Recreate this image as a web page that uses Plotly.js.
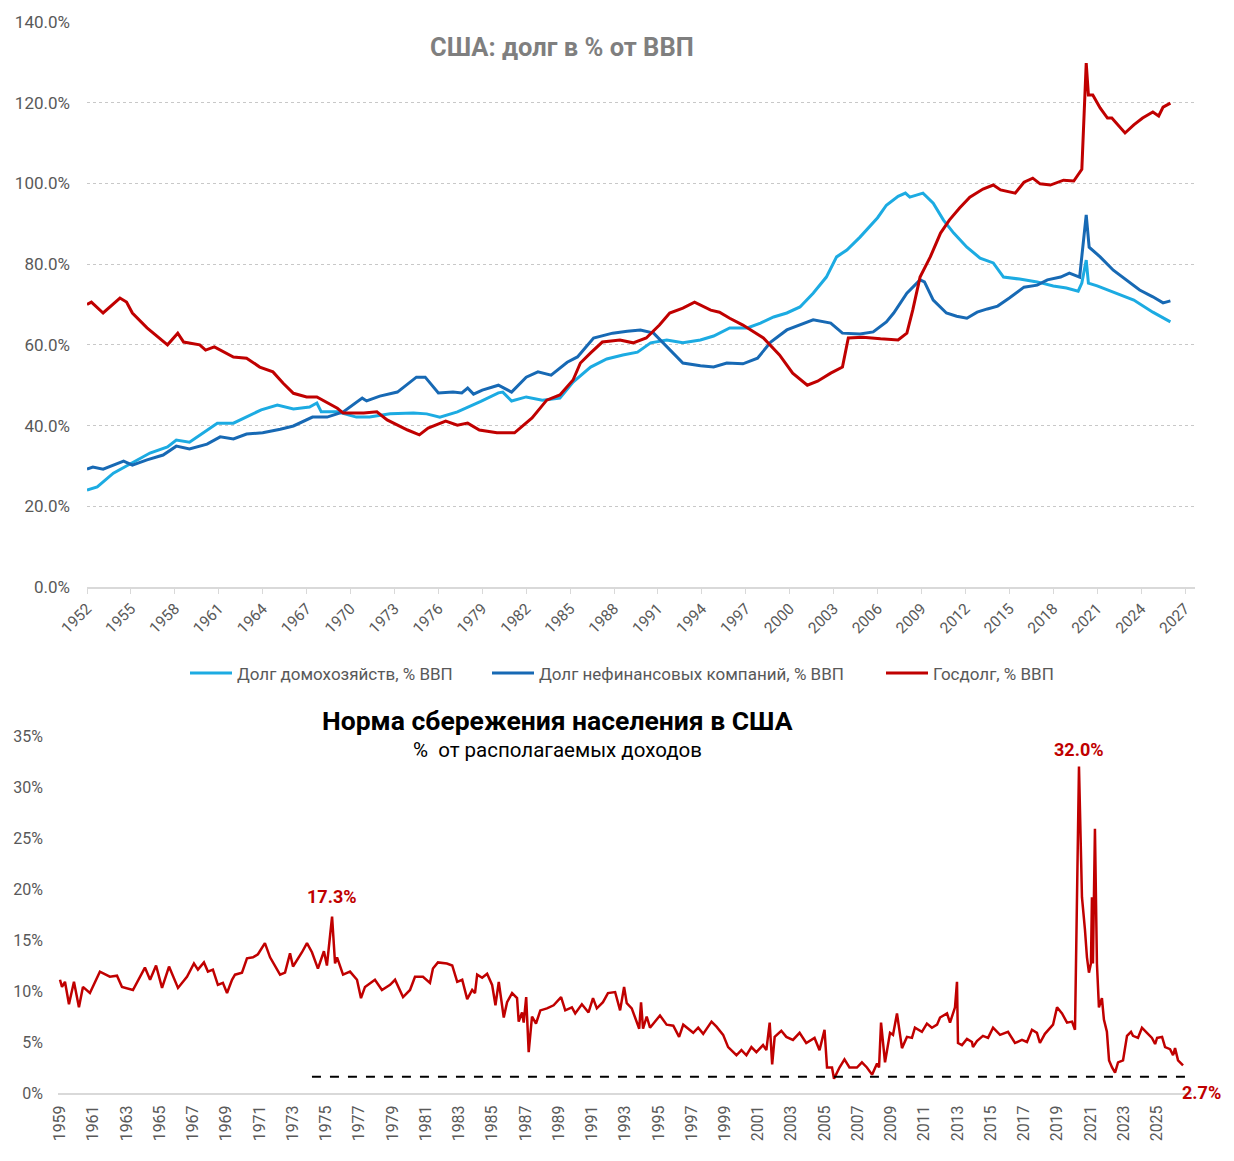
<!DOCTYPE html>
<html>
<head>
<meta charset="utf-8">
<script src="https://cdn.plot.ly/plotly-3.0.1.min.js"></script>
<style>
  html, body { margin: 0; padding: 0; background: #fff; }
  #chart { width: 1234px; height: 1161px; }
</style>
</head>
<body>
<div id="chart"></div>
<script>
// debt, % of GDP
var govYears = [1952.0, 1952.3, 1953.1, 1954.25, 1954.7, 1955.1, 1956.1, 1957.5, 1958.2, 1958.6, 1959.7, 1960.1, 1960.7, 1962.0, 1962.9, 1963.8, 1964.7, 1965.4, 1966.1, 1967.0, 1967.7, 1968.4, 1969.1, 1969.5, 1970.9, 1971.8, 1972.5, 1973.9, 1974.7, 1975.3, 1976.5, 1977.3, 1978.0, 1978.8, 1980.0, 1981.2, 1982.4, 1983.4, 1984.3, 1985.2, 1985.7, 1986.4, 1987.2, 1988.4, 1989.3, 1990.2, 1991.1, 1991.8, 1992.7, 1993.5, 1994.6, 1995.2, 1995.9, 1996.8, 1998.2, 1999.3, 2000.2, 2001.2, 2001.9, 2002.8, 2003.6, 2004.0, 2005.0, 2006.2, 2007.4, 2008.0, 2008.4, 2008.9, 2009.6, 2010.3, 2010.9, 2011.6, 2012.3, 2013.2, 2013.9, 2014.4, 2015.4, 2016.0, 2016.6, 2017.1, 2017.8, 2018.7, 2019.4, 2019.95, 2020.25, 2020.4, 2020.7, 2021.2, 2021.7, 2022.0, 2022.4, 2022.9, 2023.5, 2024.1, 2024.8, 2025.2, 2025.5, 2026.0];
var govDebt = [70.0, 70.6, 67.9, 71.6, 70.6, 67.9, 64.2, 60.0, 62.9, 60.7, 60.0, 58.7, 59.5, 57.0, 56.7, 54.5, 53.3, 50.5, 48.0, 47.1, 47.1, 45.6, 44.3, 43.1, 43.1, 43.4, 41.4, 38.9, 37.7, 39.4, 41.1, 40.1, 40.6, 38.9, 38.2, 38.2, 41.9, 46.3, 47.6, 51.3, 55.5, 58.0, 60.7, 61.2, 60.5, 61.7, 64.9, 67.9, 69.1, 70.6, 68.6, 68.1, 66.6, 64.9, 61.7, 57.5, 53.0, 50.0, 51.0, 53.0, 54.5, 61.7, 61.9, 61.5, 61.2, 62.9, 68.6, 76.8, 81.8, 87.7, 90.9, 93.9, 96.6, 98.6, 99.6, 98.4, 97.6, 100.3, 101.3, 99.9, 99.6, 100.8, 100.6, 103.5, 129.8, 121.9, 121.9, 118.7, 116.2, 116.2, 114.5, 112.5, 114.5, 116.2, 117.7, 116.7, 118.9, 119.9];

var hhYears = [1952.0, 1952.7, 1953.8, 1955.1, 1956.3, 1957.5, 1958.1, 1959.0, 1959.9, 1960.9, 1962.0, 1962.9, 1963.9, 1965.0, 1966.1, 1967.2, 1967.7, 1968.0, 1969.1, 1970.4, 1971.3, 1972.7, 1974.3, 1975.2, 1976.1, 1977.3, 1978.2, 1978.9, 1980.1, 1980.4, 1981.0, 1982.0, 1983.1, 1984.3, 1985.2, 1986.4, 1987.5, 1988.6, 1989.6, 1990.5, 1991.6, 1992.7, 1993.9, 1994.8, 1995.9, 1997.1, 1998.0, 1998.9, 1999.8, 2000.7, 2001.6, 2002.5, 2003.2, 2003.9, 2004.8, 2006.0, 2006.6, 2007.4, 2007.9, 2008.2, 2009.1, 2009.8, 2010.5, 2011.2, 2012.1, 2013.0, 2013.9, 2014.6, 2015.7, 2016.9, 2018.0, 2018.9, 2019.7, 2019.95, 2020.25, 2020.4, 2021.0, 2022.1, 2023.5, 2024.8, 2026.0];
var hhDebt = [24.0, 24.8, 28.2, 30.7, 33.2, 34.7, 36.4, 35.9, 38.2, 40.6, 40.6, 42.1, 43.9, 45.1, 44.1, 44.6, 45.6, 43.4, 43.4, 42.1, 42.1, 42.9, 43.1, 42.9, 42.1, 43.4, 44.8, 46.0, 48.1, 48.3, 46.1, 47.1, 46.3, 46.8, 50.8, 54.5, 56.5, 57.5, 58.2, 60.5, 61.2, 60.5, 61.2, 62.2, 64.2, 64.2, 65.4, 66.9, 67.9, 69.4, 72.8, 76.8, 81.8, 83.5, 86.7, 91.5, 94.6, 96.8, 97.6, 96.6, 97.6, 95.1, 90.9, 87.7, 84.2, 81.5, 80.3, 76.8, 76.3, 75.6, 74.6, 74.1, 73.3, 75.3, 81.0, 75.3, 74.6, 73.1, 71.1, 68.1, 65.7];

var corpYears = [1952.0, 1952.4, 1953.1, 1954.5, 1955.1, 1956.1, 1957.2, 1958.1, 1959.0, 1960.2, 1961.1, 1962.0, 1962.9, 1964.0, 1965.2, 1966.1, 1967.4, 1968.4, 1969.5, 1970.8, 1971.1, 1972.0, 1973.2, 1973.7, 1974.5, 1975.1, 1976.0, 1977.0, 1977.6, 1978.0, 1978.4, 1979.0, 1980.1, 1981.0, 1982.0, 1982.8, 1983.7, 1984.8, 1985.5, 1986.6, 1987.9, 1988.9, 1989.8, 1990.7, 1991.6, 1992.7, 1993.9, 1994.8, 1995.7, 1996.8, 1997.8, 1998.7, 1999.8, 2000.7, 2001.6, 2002.8, 2003.6, 2004.8, 2005.7, 2006.6, 2007.1, 2008.0, 2008.9, 2009.2, 2009.8, 2010.7, 2011.4, 2012.1, 2012.8, 2013.5, 2014.2, 2015.0, 2016.0, 2016.9, 2017.6, 2018.5, 2019.1, 2019.8, 2020.25, 2020.45, 2021.2, 2022.1, 2023.0, 2023.9, 2024.8, 2025.5, 2026.0];
var corpDebt = [29.2, 29.7, 29.2, 31.2, 30.2, 31.5, 32.7, 34.9, 34.2, 35.4, 37.2, 36.7, 37.9, 38.2, 39.1, 39.9, 42.1, 42.1, 43.4, 46.8, 46.1, 47.3, 48.3, 49.8, 52.0, 52.0, 48.1, 48.3, 48.1, 49.3, 47.8, 48.8, 50.0, 48.3, 52.0, 53.3, 52.5, 55.7, 57.0, 61.7, 62.9, 63.4, 63.7, 62.9, 59.5, 55.5, 54.8, 54.5, 55.5, 55.3, 56.7, 60.7, 63.7, 64.9, 66.2, 65.4, 62.9, 62.7, 63.2, 65.7, 67.9, 72.8, 76.1, 75.6, 71.1, 67.9, 67.1, 66.6, 68.1, 68.9, 69.6, 71.6, 74.3, 74.8, 76.1, 76.8, 77.8, 76.8, 92.2, 84.2, 81.8, 78.5, 76.1, 73.6, 71.9, 70.4, 70.9];

// personal saving rate, % of disposable income
var saveYears = [1959.0, 1959.12, 1959.3, 1959.54, 1959.84, 1960.14, 1960.38, 1960.8, 1961.4, 1962.0, 1962.43, 1962.73, 1963.39, 1964.11, 1964.42, 1964.78, 1965.14, 1965.56, 1966.1, 1966.64, 1967.06, 1967.3, 1967.66, 1967.9, 1968.2, 1968.5, 1968.8, 1969.05, 1969.35, 1969.53, 1969.95, 1970.25, 1970.61, 1970.91, 1971.33, 1971.64, 1972.24, 1972.54, 1972.84, 1973.02, 1973.56, 1973.86, 1974.16, 1974.52, 1974.88, 1975.06, 1975.37, 1975.55, 1975.67, 1976.03, 1976.45, 1976.87, 1977.11, 1977.35, 1977.95, 1978.37, 1978.86, 1979.16, 1979.64, 1980.06, 1980.36, 1980.84, 1981.26, 1981.44, 1981.74, 1982.28, 1982.6, 1982.9, 1983.2, 1983.5, 1983.8, 1983.97, 1984.1, 1984.4, 1984.7, 1985.0, 1985.2, 1985.4, 1985.7, 1985.9, 1986.2, 1986.5, 1986.6, 1986.8, 1986.9, 1987.05, 1987.2, 1987.4, 1987.64, 1987.9, 1988.3, 1988.7, 1989.15, 1989.4, 1989.8, 1990.0, 1990.4, 1990.8, 1991.07, 1991.3, 1991.67, 1991.97, 1992.4, 1992.7, 1992.94, 1993.1, 1993.4, 1993.7, 1993.85, 1993.96, 1994.08, 1994.3, 1994.5, 1995.1, 1995.5, 1995.9, 1996.25, 1996.5, 1997.1, 1997.4, 1997.7, 1998.2, 1998.5, 1998.9, 1999.2, 1999.7, 2000.0, 2000.3, 2000.6, 2000.9, 2001.3, 2001.5, 2001.7, 2001.85, 2002.0, 2002.4, 2002.7, 2003.1, 2003.5, 2003.9, 2004.4, 2004.7, 2005.0, 2005.15, 2005.45, 2005.57, 2005.9, 2006.2, 2006.5, 2006.95, 2007.25, 2007.55, 2007.86, 2008.16, 2008.28, 2008.4, 2008.64, 2008.94, 2009.12, 2009.36, 2009.66, 2009.96, 2010.26, 2010.44, 2010.86, 2011.16, 2011.46, 2011.77, 2011.95, 2012.37, 2012.55, 2012.85, 2012.97, 2013.03, 2013.27, 2013.57, 2013.87, 2013.93, 2014.17, 2014.53, 2014.84, 2015.14, 2015.56, 2016.04, 2016.46, 2016.88, 2017.18, 2017.48, 2017.78, 2017.96, 2018.26, 2018.75, 2018.99, 2019.29, 2019.59, 2019.89, 2020.07, 2020.31, 2020.49, 2020.67, 2020.79, 2020.91, 2021.03, 2021.09, 2021.15, 2021.27, 2021.39, 2021.51, 2021.69, 2021.81, 2021.99, 2022.12, 2022.3, 2022.48, 2022.66, 2022.96, 2023.2, 2023.44, 2023.56, 2023.86, 2024.1, 2024.4, 2024.7, 2024.89, 2025.01, 2025.31, 2025.49, 2025.79, 2025.97, 2026.09, 2026.27, 2026.57];
var saveRate = [11.1, 10.4, 10.9, 8.7, 10.9, 8.4, 10.4, 9.8, 11.9, 11.4, 11.5, 10.4, 10.1, 12.3, 11.1, 12.5, 10.3, 12.4, 10.3, 11.4, 12.7, 12.1, 12.8, 11.9, 12.1, 10.6, 10.8, 9.8, 11.1, 11.6, 11.8, 13.2, 13.3, 13.6, 14.7, 13.3, 11.6, 11.8, 13.7, 12.4, 13.8, 14.7, 13.8, 12.2, 13.9, 12.5, 17.3, 12.7, 13.3, 11.6, 11.9, 11.1, 9.3, 10.4, 11.1, 10.1, 10.6, 11.1, 9.4, 10.1, 11.4, 11.4, 10.8, 12.2, 12.8, 12.7, 12.5, 10.9, 11.1, 9.2, 10.1, 9.8, 11.6, 11.3, 11.7, 10.6, 8.6, 10.9, 7.4, 8.9, 9.8, 9.3, 7.0, 7.9, 6.9, 9.4, 4.0, 7.5, 6.8, 8.1, 8.3, 8.6, 9.4, 8.1, 8.4, 7.8, 8.7, 7.9, 9.3, 8.3, 8.9, 9.8, 9.9, 8.1, 10.4, 8.8, 8.3, 6.9, 6.3, 8.9, 6.3, 7.5, 6.4, 7.6, 6.7, 6.6, 5.5, 6.7, 5.9, 6.4, 5.8, 7.0, 6.5, 5.7, 4.5, 3.7, 4.2, 3.7, 4.5, 4.0, 4.7, 4.2, 6.9, 2.8, 5.5, 6.1, 5.5, 5.2, 5.9, 4.9, 5.4, 4.2, 6.2, 2.5, 2.5, 1.4, 2.5, 3.3, 2.5, 2.5, 3.0, 2.5, 1.8, 2.9, 2.5, 6.9, 3.0, 5.9, 5.7, 7.8, 4.4, 5.5, 5.4, 6.4, 6.0, 6.8, 6.4, 6.7, 7.4, 7.8, 6.9, 8.4, 10.9, 4.9, 4.7, 5.3, 5.0, 4.5, 5.1, 5.6, 5.4, 6.4, 5.7, 6.0, 4.9, 5.2, 5.0, 6.2, 5.9, 4.9, 5.8, 6.7, 8.4, 7.8, 6.9, 7.0, 6.2, 32.0, 19.2, 16.0, 13.3, 11.8, 12.7, 19.2, 12.7, 25.9, 12.7, 8.4, 9.3, 7.2, 6.0, 3.2, 2.5, 2.0, 3.0, 3.2, 5.6, 6.0, 5.6, 5.4, 6.4, 5.9, 5.4, 4.8, 5.4, 5.5, 4.5, 4.3, 3.7, 4.4, 3.2, 2.7];

// dashed floor line
var floorYears = [1974.16, 2026.8];
var floorLevel = [1.6, 1.6];

var topTicks = [1952, 1955, 1958, 1961, 1964, 1967, 1970, 1973, 1976, 1979, 1982, 1985, 1988, 1991, 1994, 1997, 2000, 2003, 2006, 2009, 2012, 2015, 2018, 2021, 2024, 2027];
var debtTicks = [0, 20, 40, 60, 80, 100, 120, 140];
var debtTickText = ["0.0%", "20.0%", "40.0%", "60.0%", "80.0%", "100.0%", "120.0%", "140.0%"];
var bottomTicks = [1959, 1961, 1963, 1965, 1967, 1969, 1971, 1973, 1975, 1977, 1979, 1981, 1983, 1985, 1987, 1989, 1991, 1993, 1995, 1997, 1999, 2001, 2003, 2005, 2007, 2009, 2011, 2013, 2015, 2017, 2019, 2021, 2023, 2025];
var saveTicks = [0, 5, 10, 15, 20, 25, 30, 35];
var saveTickText = ["0%", "5%", "10%", "15%", "20%", "25%", "30%", "35%"];

var FONT = "Roboto, 'Noto Sans', sans-serif";
var GREY = "#595959";
var RED = "#c00000";

var data = [
  {
    x: hhYears, y: hhDebt, type: "scatter", mode: "lines",
    name: "Долг домохозяйств, % ВВП", legend: "legend",
    line: { color: "#1cabe2", width: 3 }, xaxis: "x", yaxis: "y",
  },
  {
    x: corpYears, y: corpDebt, type: "scatter", mode: "lines",
    name: "Долг нефинансовых компаний, % ВВП", legend: "legend2",
    line: { color: "#1769b4", width: 3 }, xaxis: "x", yaxis: "y",
  },
  {
    x: govYears, y: govDebt, type: "scatter", mode: "lines",
    name: "Госдолг, % ВВП", legend: "legend3",
    line: { color: RED, width: 3 }, xaxis: "x", yaxis: "y",
  },
  {
    x: saveYears, y: saveRate, type: "scatter", mode: "lines",
    showlegend: false,
    line: { color: RED, width: 2.5 }, xaxis: "x2", yaxis: "y2",
  },
  {
    x: floorYears, y: floorLevel, type: "scatter", mode: "lines",
    showlegend: false,
    line: { color: "#000000", width: 2, dash: "dash" }, xaxis: "x2", yaxis: "y2",
  },
]

var legendBase = {
  orientation: "h", yanchor: "middle", xanchor: "left", y: 0.42,
  itemwidth: 42,
  font: { family: FONT, size: 17, color: GREY }, bgcolor: "rgba(0,0,0,0)",
}

var layout = {
  width: 1234,
  height: 1161,
  margin: { t: 0, r: 0, l: 0, b: 0 },
  paper_bgcolor: "#ffffff",
  plot_bgcolor: "#ffffff",
  font: { family: FONT, color: GREY },
  legend: Object.assign({}, legendBase, { x: 185 / 1234 }),
  legend2: Object.assign({}, legendBase, { x: 487 / 1234 }),
  legend3: Object.assign({}, legendBase, { x: 881 / 1234 }),
  xaxis: {
    domain: [87 / 1234, 1195 / 1234], anchor: "y",
    range: [1952, 2027.68],
    tickmode: "array", tickvals: topTicks, ticktext: topTicks.map(String),
    tickangle: -45, ticks: "outside", ticklen: 5, tickcolor: "#d9d9d9",
    showline: true, linecolor: "#d9d9d9", linewidth: 1.5,
    showgrid: false, zeroline: false,
    tickfont: { family: FONT, size: 15.5, color: GREY },
  },
  yaxis: {
    domain: [(1161 - 587) / 1161, (1161 - 22) / 1161], anchor: "x",
    range: [0, 140], tickmode: "array", tickvals: debtTicks, ticktext: debtTickText,
    showgrid: true, gridcolor: "#c8c8c8", griddash: "dot", gridwidth: 1,
    zeroline: false, showline: false, ticklabelstandoff: 16,
    tickfont: { family: FONT, size: 17, color: GREY },
  },
  xaxis2: {
    domain: [58 / 1234, 1192 / 1234], anchor: "y2",
    range: [1958.88, 2027.11],
    tickmode: "array", tickvals: bottomTicks, ticktext: bottomTicks.map(String),
    tickangle: -90, ticks: "",
    showline: true, linecolor: "#d9d9d9", linewidth: 2,
    showgrid: false, zeroline: false, ticklabelstandoff: 4,
    tickfont: { family: FONT, size: 16, color: GREY },
  },
  yaxis2: {
    domain: [(1161 - 1093) / 1161, (1161 - 736) / 1161], anchor: "x2",
    range: [0, 35], tickmode: "array", tickvals: saveTicks, ticktext: saveTickText,
    showgrid: false, zeroline: false, showline: false, ticklabelstandoff: 14,
    tickfont: { family: FONT, size: 16, color: GREY },
  },
  annotations: [
    {
      text: "<b>США: долг в % от ВВП</b>", xref: "paper", yref: "paper",
      x: 562 / 1234, y: (1161 - 47) / 1161, yanchor: "middle", showarrow: false,
      font: { family: FONT, size: 25.5, color: "#7f7f7f" },
    },
    {
      text: "<b>Норма сбережения населения в США</b>", xref: "paper", yref: "paper",
      x: 557 / 1234, y: (1161 - 720) / 1161, yanchor: "middle", showarrow: false,
      font: { family: FONT, size: 26.5, color: "#000000" },
    },
    {
      text: "%  от располагаемых доходов", xref: "paper", yref: "paper",
      x: 557 / 1234, y: (1161 - 750) / 1161, yanchor: "middle", showarrow: false,
      font: { family: FONT, size: 20.5, color: "#000000" },
    },
    {
      text: "<b>17.3%</b>", xref: "x2", yref: "y2", x: 1975.37, y: 17.3,
      yshift: 20, showarrow: false, font: { family: FONT, size: 18, color: RED },
    },
    {
      text: "<b>32.0%</b>", xref: "x2", yref: "y2", x: 2020.31, y: 32.0,
      yshift: 17, showarrow: false, font: { family: FONT, size: 18, color: RED },
    },
    {
      text: "<b>2.7%</b>", xref: "x2", yref: "y2", x: 2026.57, y: 2.7,
      xshift: 18, yshift: -27, showarrow: false, font: { family: FONT, size: 18, color: RED },
    },
  ],
}

Plotly.newPlot("chart", data, layout, { staticPlot: true, displayModeBar: false })
</script>
</body>
</html>
